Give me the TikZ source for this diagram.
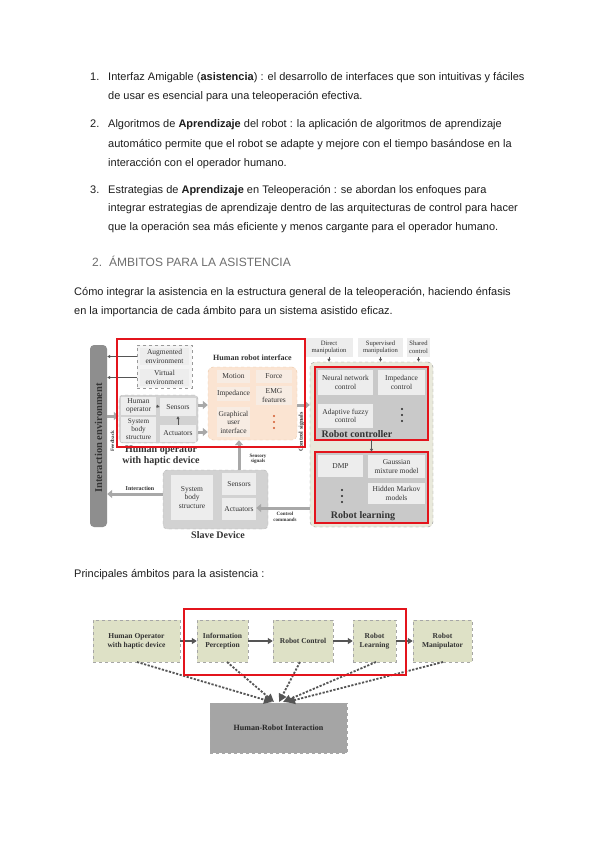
\documentclass[tikz,border=0pt]{standalone}
\usepackage{fontspec}
\setmainfont{Liberation Sans}
\newfontfamily\serifd{Liberation Serif}
\usetikzlibrary{arrows.meta}
\definecolor{txt}{HTML}{1E1E1E}
\definecolor{headgray}{HTML}{6E6E6E}
\definecolor{redc}{HTML}{E3141C}
\definecolor{bargray}{HTML}{8E8E8E}
\definecolor{boxgray}{HTML}{D2D2D2}
\definecolor{cellgray}{HTML}{EDEDED}
\definecolor{peach}{HTML}{FBE4D2}
\definecolor{peachcell}{HTML}{F7ECE3}
\definecolor{beige}{HTML}{E9E9DB}
\definecolor{ctrlgray}{HTML}{C9C9C9}
\definecolor{arrgray}{HTML}{A8A8A8}
\definecolor{darkarr}{HTML}{555555}
\definecolor{olive}{HTML}{DEE1C6}
\definecolor{hrigray}{HTML}{A5A5A5}
\definecolor{dtext}{HTML}{333333}
\newcommand{\dsmall}{\serifd\fontsize{7.5}{8.5}\selectfont}
\newcommand{\dtiny}{\serifd\bfseries\fontsize{5}{5.5}\selectfont}
\newcommand{\dbig}{\serifd\bfseries\fontsize{10}{11}\selectfont}
\begin{document}
\begin{tikzpicture}[x=1pt,y=-1pt,
  bodyline/.style={anchor=base west, inner sep=0pt, font=\fontsize{11}{13}\selectfont, text=txt},
  cellbox/.style={fill=cellgray, inner sep=0pt, align=center, font=\dsmall, text=dtext},
  topbox/.style={cellbox, font=\serifd\fontsize{6.6}{7.6}\selectfont},
  pcell/.style={fill=peachcell, inner sep=0pt, align=center, font=\dsmall, text=dtext},
  grpbox/.style={fill=boxgray, draw=gray!60, dashed, rounded corners=4pt, inner sep=0pt},
  redbox/.style={draw=redc, line width=1.6pt},
  thickarr/.style={draw=arrgray, line width=3pt, -{Triangle[length=5pt,width=8pt]}},
  thinarr/.style={draw=darkarr, line width=0.8pt, -{Triangle[length=3pt,width=3pt]}},
  biglabel/.style={font=\dbig, text=dtext, inner sep=0pt, align=center},
  smalllabel/.style={font=\dtiny, text=dtext, inner sep=0pt, align=center},
  obox/.style={fill=olive, draw=gray!70, dashed, inner sep=0pt, align=center,
     font=\serifd\bfseries\fontsize{7.5}{9}\selectfont, text=dtext},
  flowarr/.style={draw=darkarr, line width=1.5pt, -{Triangle[length=5pt,width=6pt]}},
  dasharr/.style={draw=darkarr, line width=1.8pt, dash pattern=on 2.2pt off 1.5pt, -{Triangle[length=8pt,width=8pt]}}
]
\useasboundingbox[fill=white] (0,0) rectangle (599,848);

% ---------- body text ----------
\node[bodyline] (n1) at (90,81) {1.};
\node[bodyline] (l1a) at (108,81) {Interfaz Amigable (\textbf{asistencia}) : el desarrollo de interfaces que son intuitivas y fáciles};
\node[bodyline] (l1b) at (108,100) {de usar es esencial para una teleoperación efectiva.};
\node[bodyline] (n2) at (90,128) {2.};
\node[bodyline] (l2a) at (108,128) {Algoritmos de \textbf{Aprendizaje} del robot : la aplicación de algoritmos de aprendizaje};
\node[bodyline] (l2b) at (108,147) {automático permite que el robot se adapte y mejore con el tiempo basándose en la};
\node[bodyline] (l2c) at (108,166) {interacción con el operador humano.};
\node[bodyline] (n3) at (90,193) {3.};
\node[bodyline] (l3a) at (108,193) {Estrategias de \textbf{Aprendizaje} en Teleoperación : se abordan los enfoques para};
\node[bodyline] (l3b) at (108,211) {integrar estrategias de aprendizaje dentro de las arquitecturas de control para hacer};
\node[bodyline] (l3c) at (108,230) {que la operación sea más eficiente y menos cargante para el operador humano.};
\node[bodyline, font=\fontsize{12}{14}\selectfont, text=headgray] (hd) at (92,266) {2.\hspace{7pt}ÁMBITOS PARA LA ASISTENCIA};
\node[bodyline] (p1) at (74,295) {Cómo integrar la asistencia en la estructura general de la teleoperación, haciendo énfasis};
\node[bodyline] (p2) at (74,314) {en la importancia de cada ámbito para un sistema asistido eficaz.};
\node[bodyline] (p3) at (74,577) {Principales ámbitos para la asistencia :};

% ---------- diagram 1 ----------
\node[fill=bargray, rounded corners=4pt, minimum width=17pt, minimum height=182pt, inner sep=0pt] (bar) at (98.5,436) {};
\node[rotate=90, font=\serifd\bfseries\fontsize{10.5}{12}\selectfont, text=black!80] (bartxt) at (98.5,438) {Interaction environment};

% virtual environment box
\node[fill=cellgray!60, draw=gray!80, dashed, minimum width=55pt, minimum height=43pt, inner sep=0pt] (virt) at (164.5,366.5) {};
\node[cellbox, minimum width=49pt, minimum height=17pt] (aug) at (164.5,356.5) {Augmented\\environment};
\node[cellbox, minimum width=49pt, minimum height=17pt] (vir) at (164.5,377.5) {Virtual\\environment};
\draw[thinarr] (virt.west |- aug) -- (bar.east |- aug);
\draw[thinarr] (virt.west |- vir) -- (bar.east |- vir);

% human operator box
\node[grpbox, minimum width=79pt, minimum height=48pt] (hop) at (158.5,419) {};
\node[cellbox, minimum width=35pt, minimum height=18pt] (hopc) at (138.5,406) {Human\\operator};
\node[cellbox, minimum width=35pt, minimum height=25pt, font=\serifd\fontsize{7.2}{7.9}\selectfont] (sysb) at (138.5,429.5) {System\\body\\structure};
\node[cellbox, minimum width=36pt, minimum height=18pt] (hsens) at (178,407) {Sensors};
\node[cellbox, minimum width=36pt, minimum height=17pt] (hact) at (178,433.5) {Actuators};
\draw[thinarr] (hopc.east) -- (hsens.west);
\draw[thinarr] (hact.north) -- (hsens.south);
\coordinate (fbs) at (107,416);
\draw[thickarr] (bar.east |- fbs) -- (hop.west |- fbs);
\node[smalllabel, rotate=90] (fbl) at (112.5,441) {Feedback};
\node[biglabel] (hoplbl) at (161,456) {Human operator\\with haptic device};

% human robot interface
\node[font=\serifd\bfseries\fontsize{8}{9}\selectfont, text=dtext, inner sep=0pt] (hrit) at (252.5,358) {Human robot interface};
\node[fill=peach, draw=peach!70!brown, dashed, rounded corners=5pt, minimum width=89pt, minimum height=73pt, inner sep=0pt] (hri) at (252.5,403.5) {};
\node[pcell, minimum width=33pt, minimum height=13pt] (motion) at (233.5,376.5) {Motion};
\node[pcell, minimum width=36pt, minimum height=13pt] (force) at (274,376.5) {Force};
\node[pcell, minimum width=33pt, minimum height=14pt] (imped) at (233.5,394) {Impedance};
\node[pcell, minimum width=36pt, minimum height=19pt] (emg) at (274,395.5) {EMG\\features};
\node[pcell, minimum width=33pt, minimum height=30pt] (gui) at (233.5,422) {Graphical\\user\\interface};
\fill[brown!70!red] (274,416) circle (1.2) (274,422) circle (1.2) (274,428) circle (1.2);
\coordinate (ha1) at (198,405);
\coordinate (ha2) at (198,432);
\draw[thickarr] (hop.east |- ha1) -- (hri.west |- ha1);
\draw[thickarr] (hop.east |- ha2) -- (hri.west |- ha2);

% top manipulation boxes
\node[topbox, minimum width=48pt, minimum height=19pt] (dm) at (329,347.5) {Direct\\manipulation};
\node[topbox, minimum width=45pt, minimum height=19pt] (sm) at (380.5,347.5) {Supervised\\manipulation};
\node[topbox, minimum width=23pt, minimum height=19pt] (sc) at (418.5,347.5) {Shared\\control};

% robot outer box
\node[fill=beige, draw=gray!80, dashed, rounded corners=5pt, minimum width=123pt, minimum height=165pt, inner sep=0pt] (robo) at (371.5,444.5) {};
\draw[thinarr] (dm.south) -- (dm.south |- robo.north);
\draw[thinarr] (sm.south) -- (sm.south |- robo.north);
\draw[thinarr] (sc.south) -- (sc.south |- robo.north);
\coordinate (hra) at (297,405);
\draw[thickarr] (hri.east |- hra) -- (robo.west |- hra);
\node[smalllabel, rotate=90, font=\serifd\bfseries\fontsize{6}{7}\selectfont] (csl) at (301.5,432) {Control signals};

% robot controller
\node[fill=ctrlgray, minimum width=113pt, minimum height=73pt, inner sep=0pt] (rc) at (371.5,403.5) {};
\node[cellbox, minimum width=55pt, minimum height=25pt] (nn) at (345.5,382.5) {Neural network\\control};
\node[cellbox, minimum width=47pt, minimum height=25pt] (ic) at (401.5,382.5) {Impedance\\control};
\node[cellbox, minimum width=55pt, minimum height=24pt] (af) at (345.5,416) {Adaptive fuzzy\\control};
\fill[black!85] (402,409) circle (1.2) (402,415) circle (1.2) (402,421) circle (1.2);
\node[biglabel] (rcl) at (357,434) {Robot controller};
\draw[redbox] (rc.north west) rectangle (rc.south east);

% robot learning
\node[fill=ctrlgray, minimum width=113pt, minimum height=71pt, inner sep=0pt] (rl) at (371.5,487.5) {};
\node[cellbox, minimum width=45pt, minimum height=22pt] (dmp) at (340.5,466) {DMP};
\node[cellbox, minimum width=57pt, minimum height=23pt] (gmm) at (396.5,466.5) {Gaussian\\mixture model};
\node[cellbox, minimum width=57pt, minimum height=21pt] (hmm) at (396.5,493.5) {Hidden Markov\\models};
\fill[black!85] (342,490) circle (1.2) (342,496) circle (1.2) (342,502) circle (1.2);
\node[biglabel] (rll) at (363,516.5) {Robot learning};
\draw[redbox] (rl.north west) rectangle (rl.south east);
\draw[thinarr] (rc.south) -- (rl.north);

% slave device
\node[grpbox, minimum width=105pt, minimum height=59pt] (slave) at (215.5,499.5) {};
\node[cellbox, minimum width=42pt, minimum height=45pt] (ssb) at (192,497.5) {System\\body\\structure};
\node[cellbox, minimum width=34pt, minimum height=22pt] (ssens) at (239,484) {Sensors};
\node[cellbox, minimum width=34pt, minimum height=22pt] (sact) at (239,509) {Actuators};
\node[biglabel] (sdl) at (218,535.5) {Slave Device};
\draw[thickarr] (slave.north -| ssens) -- (hri.south -| ssens);
\node[smalllabel] (ssl) at (258,459) {Sensory\\signals};
\coordinate (ia) at (163,494);
\draw[thickarr] (slave.west |- ia) -- (bar.east |- ia);
\node[smalllabel, font=\serifd\bfseries\fontsize{6}{7}\selectfont] (ial) at (140,488) {Interaction};
\coordinate (cca) at (310,508);
\draw[thickarr] (robo.west |- cca) -- (sact.east |- cca);
\node[smalllabel] (ccl) at (285,517) {Control\\commands};

% red frame 1
\draw[redbox] (117,339) rectangle (305,447);

% ---------- diagram 2 ----------
\node[obox, minimum width=87pt, minimum height=42pt] (ho2) at (136.5,641) {Human Operator\\with haptic device};
\node[obox, minimum width=51pt, minimum height=42pt] (ip2) at (222.5,641) {Information\\Perception};
\node[obox, minimum width=60pt, minimum height=42pt] (rc2) at (303,641) {Robot Control};
\node[obox, minimum width=43pt, minimum height=42pt] (rl2) at (374.5,641) {Robot\\Learning};
\node[obox, minimum width=59pt, minimum height=42pt] (rm2) at (442.5,641) {Robot\\Manipulator};
\node[fill=hrigray, draw=gray!70, dashed, minimum width=137pt, minimum height=50pt, inner sep=0pt,
  font=\serifd\bfseries\fontsize{8}{9}\selectfont, text=black!85] (hri2) at (278.5,728) {Human-Robot Interaction};
\draw[flowarr] (ho2) -- (ip2);
\draw[flowarr] (ip2) -- (rc2);
\draw[flowarr] (rc2) -- (rl2);
\draw[flowarr] (rl2) -- (rm2);
\coordinate (t1) at (272,702);
\coordinate (t2) at (274,702);
\coordinate (t3) at (279,702);
\coordinate (t4) at (283,702);
\coordinate (t5) at (287,702);
\coordinate (s1) at (137,662);
\coordinate (s2) at (227,662);
\coordinate (s3) at (300,662);
\coordinate (s4) at (376,662);
\coordinate (s5) at (443,662);
\draw[dasharr] (s1) -- (t1);
\draw[dasharr] (s2) -- (t2);
\draw[dasharr] (s3) -- (t3);
\draw[dasharr] (s4) -- (t4);
\draw[dasharr] (s5) -- (t5);
\draw[redbox] (184,609) rectangle (406,675);
\end{tikzpicture}
\end{document}
